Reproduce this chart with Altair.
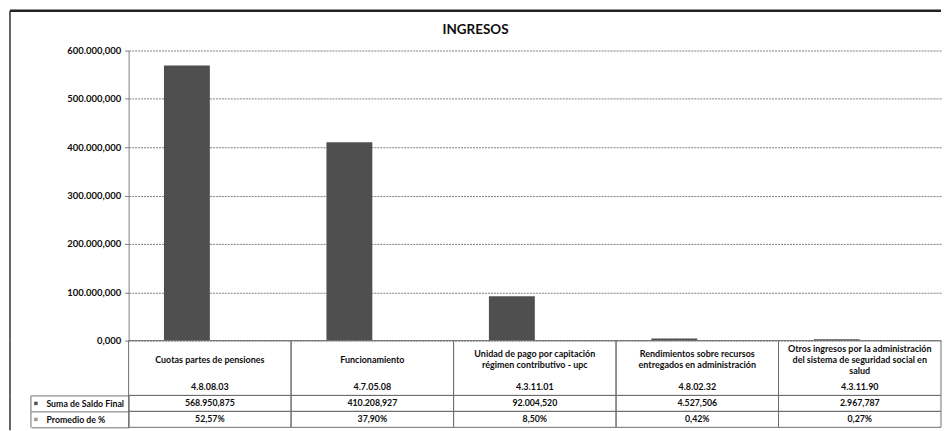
import altair as alt
import pandas as pd

# ---------------- data ----------------
codigos = ["4.8.08.03", "4.7.05.08", "4.3.11.01", "4.8.02.32", "4.3.11.90"]
nombres = [
    ["Cuotas partes de pensiones"],
    ["Funcionamiento"],
    ["Unidad de pago por capitación", "régimen contributivo - upc"],
    ["Rendimientos sobre recursos", "entregados en administración"],
    ["Otros ingresos por la administración", "del sistema de seguridad social en", "salud"],
]
saldo_final = [568950.875, 410208.927, 92004.520, 4527.506, 2967.787]
promedio_pct = [52.57, 37.90, 8.50, 0.42, 0.27]
series = ["Suma de Saldo Final", "Promedio de %"]
y_ticks = [0, 100000, 200000, 300000, 400000, 500000, 600000]
titulo = "INGRESOS"

# ---------------- helpers ----------------
def es_num(v):
    s = f"{v:,.3f}"
    return s.replace(",", "_").replace(".", ",").replace("_", ".")

def es_pct(p):
    return f"{p:.2f}%".replace(".", ",")

FONT = "Lato"
W = 815
H_PLOT = 291
H_HEAD = 55
H_ROWS = 32
LEFT = -119
GRID = "#808080"
LINE = "#6e6e6e"
TXT = "#0d0d0d"
COLORS = ["#4f4f4f", "#9a9a9a"]

# ---------------- bar chart ----------------
rows = []
for c, s, p in zip(codigos, saldo_final, promedio_pct):
    rows.append({"codigo": c, "serie": series[0], "valor": s})
    rows.append({"codigo": c, "serie": series[1], "valor": p / 100})
df_bars = pd.DataFrame(rows)

x_scale = alt.Scale(domain=codigos, paddingInner=0, paddingOuter=0)
label_expr = ("replace(replace(replace(format(datum.value, ',.3f'), ',', '_'), '.', ','), '_', '.')")

bars = alt.Chart(df_bars).mark_bar().encode(
    x=alt.X("codigo:N", scale=x_scale, axis=None, sort=codigos),
    xOffset=alt.XOffset("serie:N", sort=series,
                        scale=alt.Scale(domain=series, paddingInner=0, paddingOuter=0.77)),
    y=alt.Y("valor:Q", scale=alt.Scale(domain=[0, 600000], nice=False),
            axis=alt.Axis(values=y_ticks, labelExpr=label_expr, title=None,
                          grid=True, gridColor=GRID, gridDash=[2, 1], gridWidth=1,
                          domainColor=GRID, tickColor=GRID, tickSize=4, labelPadding=4,
                          labelFont=FONT, labelFontSize=9.5, labelFontWeight="bold",
                          labelColor=TXT)),
    color=alt.Color("serie:N", scale=alt.Scale(domain=series, range=COLORS), legend=None),
)

one = alt.Data(values=[{"k": 0}])
frame_top = alt.Chart(one).mark_rule(color="#222222", strokeWidth=2.5).encode(
    x=alt.value(LEFT), x2=alt.value(W), y=alt.value(-40))
frame_left_1 = alt.Chart(one).mark_rule(color="#333333", strokeWidth=1.5).encode(
    x=alt.value(LEFT), y=alt.value(-40), y2=alt.value(H_PLOT))

top = alt.layer(bars, frame_top, frame_left_1).properties(width=W, height=H_PLOT)

# ---------------- table header (categories + codes) ----------------
# each name line goes in a half-line slot so that every block is centred
slots = [f"s{i}" for i in range(8)]
head_rows = []
for c, lines in zip(codigos, nombres):
    n = len(lines)
    for i, t in enumerate(lines):
        head_rows.append({"codigo": c, "slot": slots[2 - (n - 1) + 2 * i], "texto": t})
    head_rows.append({"codigo": c, "slot": slots[7], "texto": c})
df_head = pd.DataFrame(head_rows)
df_cat = pd.DataFrame({"codigo": codigos})
x_tab = alt.Scale(domain=codigos, paddingInner=0, paddingOuter=0)

head_cells = alt.Chart(df_cat).mark_rect(fill="transparent", stroke=LINE, strokeWidth=1).encode(
    x=alt.X("codigo:N", scale=x_tab, axis=None, sort=codigos))
head_text = alt.Chart(df_head).mark_text(
    align="center", baseline="middle", font=FONT, fontSize=9,
    fontWeight="bold", color=TXT).encode(
    x=alt.X("codigo:N", scale=x_tab, axis=None, sort=codigos),
    y=alt.Y("slot:N", scale=alt.Scale(type="point", domain=slots,
                                       range=[8, 47], padding=0), axis=None),
    text="texto:N")
frame_left_2 = alt.Chart(one).mark_rule(color="#333333", strokeWidth=1.5).encode(
    x=alt.value(LEFT), y=alt.value(0), y2=alt.value(H_HEAD))
head = alt.layer(head_cells, head_text, frame_left_2).properties(width=W, height=H_HEAD)

# ---------------- table rows ----------------
df_rows = pd.concat([
    pd.DataFrame({"codigo": codigos, "serie": series[0], "texto": [es_num(v) for v in saldo_final]}),
    pd.DataFrame({"codigo": codigos, "serie": series[1], "texto": [es_pct(p) for p in promedio_pct]}),
])
y_rows = alt.Scale(domain=series, paddingInner=0, paddingOuter=0)

row_cells = alt.Chart(df_rows).mark_rect(fill="transparent", stroke=LINE, strokeWidth=1).encode(
    x=alt.X("codigo:N", scale=x_tab, axis=None, sort=codigos),
    y=alt.Y("serie:N", scale=y_rows, sort=series,
            axis=alt.Axis(title=None, tickBand="extent", tickSize=98, tickColor=LINE,
                          domainColor=LINE, labelAlign="left", labelPadding=-15,
                          labelBaseline="middle", labelFont=FONT, labelFontSize=8.8,
                          labelFontWeight="bold", labelColor=TXT)))
row_text = alt.Chart(df_rows).mark_text(
    align="center", baseline="middle", font=FONT, fontSize=8.8, fontWeight="bold",
    color=TXT).encode(
    x=alt.X("codigo:N", scale=x_tab, axis=None, sort=codigos),
    y=alt.Y("serie:N", scale=y_rows, sort=series),
    text="texto:N")
keys = alt.Chart(pd.DataFrame({"serie": series})).mark_square(size=12, opacity=1).encode(
    x=alt.value(-93),
    y=alt.Y("serie:N", scale=y_rows, sort=series),
    color=alt.Color("serie:N", scale=alt.Scale(domain=series, range=COLORS), legend=None))
box_left = alt.Chart(one).mark_rule(color=LINE, strokeWidth=1).encode(
    x=alt.value(-98), y=alt.value(0), y2=alt.value(H_ROWS))
frame_left_3 = alt.Chart(one).mark_rule(color="#333333", strokeWidth=1.5).encode(
    x=alt.value(LEFT), y=alt.value(0), y2=alt.value(H_ROWS + 3))
table_rows = alt.layer(row_cells, row_text, keys, box_left, frame_left_3).properties(
    width=W, height=H_ROWS)

chart = alt.vconcat(top, head, table_rows, spacing=0, bounds="flush").properties(
    title=alt.TitleParams(titulo, frame="bounds", anchor="middle", offset=-38,
                          baseline="alphabetic", font=FONT, fontSize=13.5,
                          fontWeight="bold", color=TXT),
    padding={"left": 0, "top": 0, "right": 0, "bottom": 0},
).resolve_scale(x="independent", y="independent", color="shared").configure(
    font=FONT).configure_view(stroke=None)

chart.save("out.html", embed_options={"renderer": "svg", "actions": False})
